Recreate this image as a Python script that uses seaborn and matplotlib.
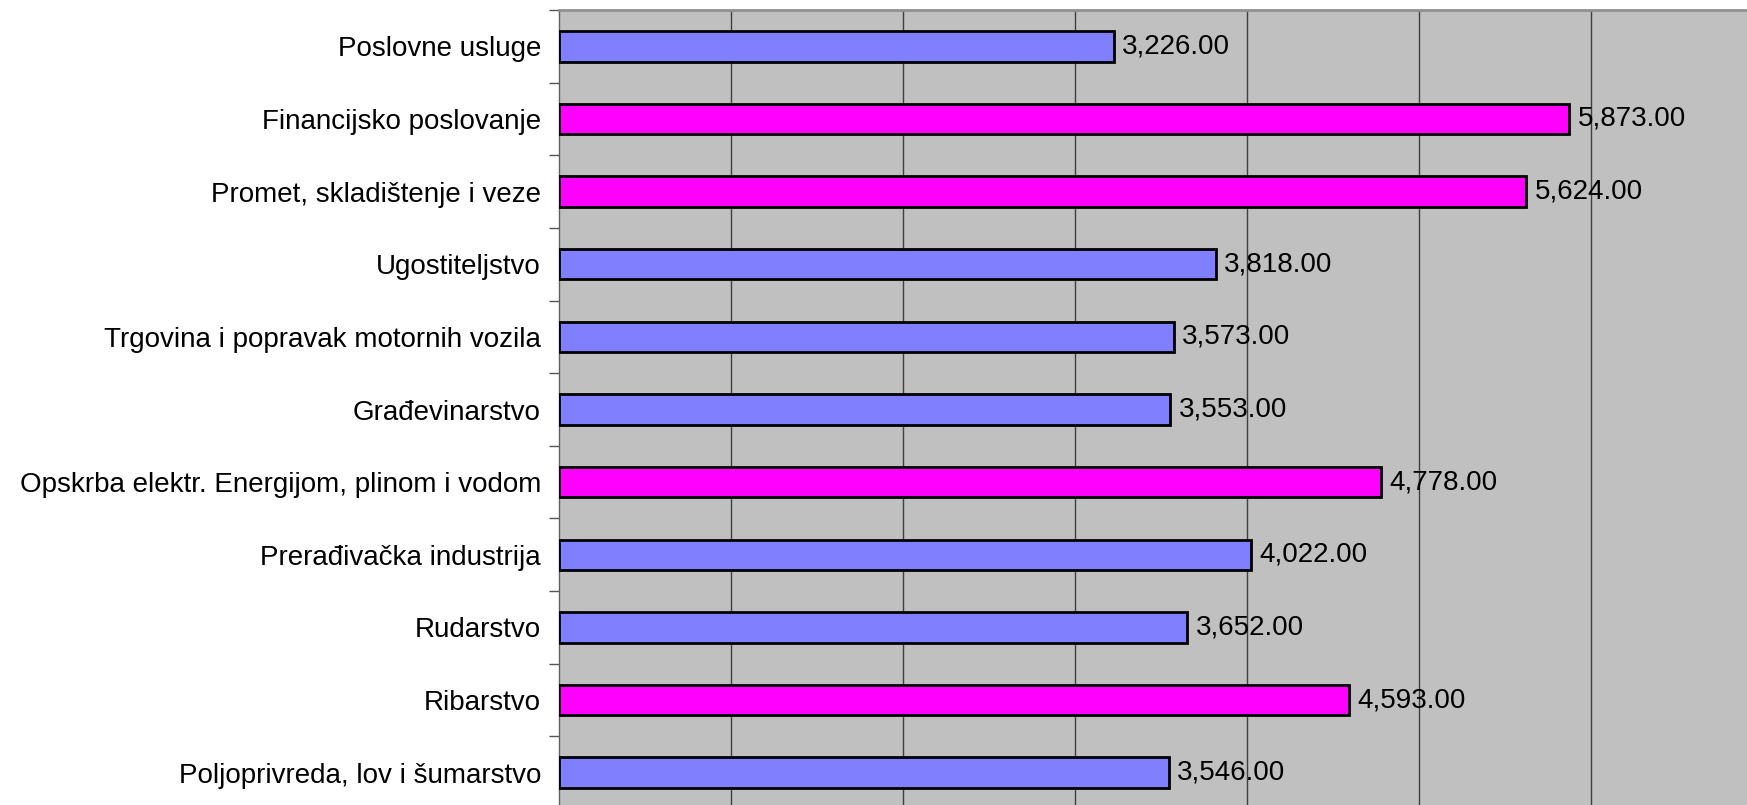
import seaborn as sns
import numpy as np
import pandas as pd
import matplotlib.pyplot as plt
from matplotlib.ticker import FixedLocator

categories = [
    "Poslovne usluge",
    "Financijsko poslovanje",
    "Promet, skladištenje i veze",
    "Ugostiteljstvo",
    "Trgovina i popravak motornih vozila",
    "Građevinarstvo",
    "Opskrba elektr. Energijom, plinom i vodom",
    "Prerađivačka industrija",
    "Rudarstvo",
    "Ribarstvo",
    "Poljoprivreda, lov i šumarstvo",
]
values = [3226, 5873, 5624, 3818, 3573, 3553, 4778, 4022, 3652, 4593, 3546]
groups = ["b", "m", "m", "b", "b", "b", "m", "b", "b", "m", "b"]

df = pd.DataFrame({"kategorija": categories, "iznos": values, "grupa": groups})

sns.set_style("white")
plt.rcParams["font.family"] = ["Liberation Sans", "DejaVu Sans"]

fig = plt.figure(figsize=(17.47, 8.05), dpi=100)
# axes spills a little past the right and bottom edges, like the cropped original
ax = fig.add_axes([559 / 1747, -4 / 805, 7000 * 0.172 / 1747, 799 / 805])

sns.barplot(data=df, x="iznos", y="kategorija", hue="grupa",
            palette={"b": "#8080FF", "m": "#FF00FF"}, saturation=1,
            dodge=False, legend=False, width=0.42, edgecolor="black",
            linewidth=2, ax=ax, zorder=3)

ax.set_facecolor("#C0C0C0")
ax.set_xlim(0, 7000)
ax.set_ylim(len(categories) - 0.5, -0.5)
ax.xaxis.set_major_locator(FixedLocator(np.arange(1000, 7000, 1000)))
ax.grid(axis="x", color="#404040", linewidth=1, zorder=0)
ax.tick_params(axis="x", length=0, labelbottom=False)
ax.set_xlabel("")
ax.set_ylabel("")

ax.yaxis.set_minor_locator(FixedLocator(np.arange(-0.5, len(categories), 1)))
ax.tick_params(axis="y", which="major", left=True, length=0, pad=13,
               labelsize=20, labelcolor="black")
ax.tick_params(axis="y", which="minor", left=True, length=7, width=1,
               color="#555555", direction="out")

for side in ["right", "bottom"]:
    ax.spines[side].set_visible(False)
ax.spines["top"].set_color("#909090")
ax.spines["top"].set_linewidth(2)
ax.spines["left"].set_color("#606060")
ax.spines["left"].set_linewidth(1)

for cont in ax.containers:
    ax.bar_label(cont, fmt="{:,.2f}", padding=6, fontsize=20, color="black",
                 zorder=4)

fig.savefig("out.png", dpi=100)
